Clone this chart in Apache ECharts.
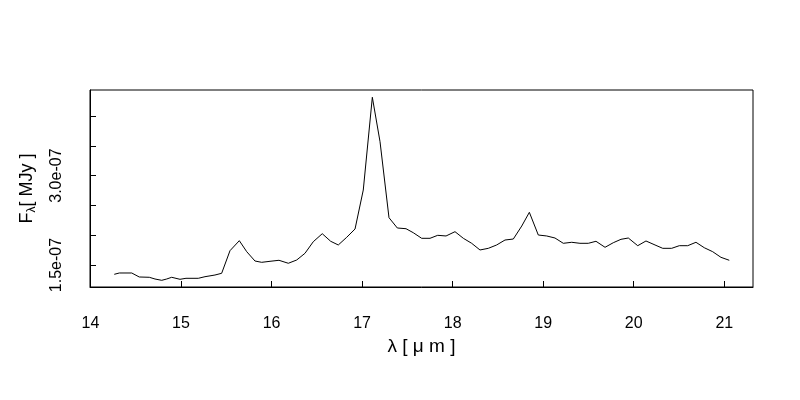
<!DOCTYPE html>
<html>
<head>
<meta charset="utf-8">
<script src="https://cdn.jsdelivr.net/npm/echarts@6/dist/echarts.min.js"></script>
<style>html,body{margin:0;padding:0;background:#fff}#c{width:800px;height:400px}</style>
</head>
<body>
<div id="c"></div>
<script>
// wavelength (micron)
const wavelength = [14.263,14.319,14.456,14.539,14.650,14.713,14.787,14.842,14.897,14.989,15.055,15.191,15.265,15.375,15.449,15.541,15.644,15.726,15.817,15.891,15.983,16.082,16.185,16.278,16.369,16.461,16.560,16.653,16.737,16.830,16.922,17.013,17.113,17.198,17.297,17.389,17.485,17.565,17.658,17.750,17.835,17.927,18.026,18.118,18.210,18.302,18.394,18.486,18.578,18.670,18.763,18.847,18.946,19.039,19.130,19.222,19.315,19.406,19.498,19.583,19.683,19.774,19.859,19.940,20.044,20.135,20.235,20.320,20.419,20.503,20.596,20.687,20.779,20.872,20.963,21.055];
// flux density (MJy), in units of 1e-7
const fluxE7 = [1.344,1.366,1.366,1.299,1.294,1.265,1.243,1.265,1.294,1.260,1.277,1.277,1.304,1.332,1.361,1.740,1.908,1.723,1.567,1.545,1.562,1.579,1.529,1.584,1.696,1.891,2.025,1.898,1.836,1.965,2.104,2.758,4.314,3.569,2.294,2.121,2.109,2.042,1.948,1.948,1.998,1.987,2.059,1.948,1.864,1.752,1.780,1.836,1.919,1.936,2.154,2.384,2.003,1.987,1.953,1.864,1.881,1.864,1.864,1.898,1.797,1.874,1.931,1.953,1.824,1.903,1.836,1.780,1.780,1.824,1.824,1.881,1.790,1.723,1.629,1.579];
const xTicks = [14,15,16,17,18,19,20,21];
const yTicks = [1.5e-7,2.0e-7,2.5e-7,3.0e-7,3.5e-7,4.0e-7];
const yLabels = [1.5e-7,3.0e-7];

const data = wavelength.map((w,i)=>[w, fluxE7[i]*1e-7]);
const FONT = '"Liberation Sans", Arial, sans-serif';

const chart = echarts.init(document.getElementById('c'), null, {renderer:'canvas'});
chart.setOption({
  animation:false,
  backgroundColor:'#ffffff',
  grid:{left:90, right:47, top:90, bottom:113, show:true, borderColor:'#000', borderWidth:1, backgroundColor:'transparent'},
  xAxis:{
    type:'value', min:13.995, max:21.317,
    name:'λ [ μ m ]', nameLocation:'middle', nameGap:50,
    nameTextStyle:{fontFamily:FONT, fontSize:19, color:'#000'},
    axisLine:{show:true, onZero:false, lineStyle:{color:'#000', width:1}},
    axisTick:{show:true, inside:true, length:6, lineStyle:{color:'#000'}, customValues:xTicks},
    axisLabel:{fontFamily:FONT, fontSize:16, color:'#000', margin:29, customValues:xTicks, formatter:v=>String(Math.round(v))},
    splitLine:{show:false}
  },
  yAxis:{
    type:'value', min:1.131e-7, max:4.436e-7,
    name:'{f|F}{s|λ}{f|[ MJy ]}', nameLocation:'middle', nameGap:52, nameRotate:90,
    nameTextStyle:{fontFamily:FONT, fontSize:18, color:'#000',
      rich:{f:{fontFamily:FONT, fontSize:18, color:'#000'}, s:{fontFamily:FONT, fontSize:12, color:'#000', verticalAlign:'bottom', padding:[9,0,0,0]}}},
    axisLine:{show:true, onZero:false, lineStyle:{color:'#000', width:1}},
    axisTick:{show:true, inside:true, length:6, lineStyle:{color:'#000'}, customValues:yTicks},
    axisLabel:{fontFamily:FONT, fontSize:16, color:'#000', margin:25, rotate:90, customValues:yLabels,
      formatter:v=>{const m=v/1e-7; return m.toFixed(1)+'e-07';}},
    splitLine:{show:false}
  },
  series:[{
    type:'line', data:data, showSymbol:false, symbol:'none',
    lineStyle:{color:'#000', width:1}, itemStyle:{color:'#000'}
  }]
});
</script>
</body>
</html>
